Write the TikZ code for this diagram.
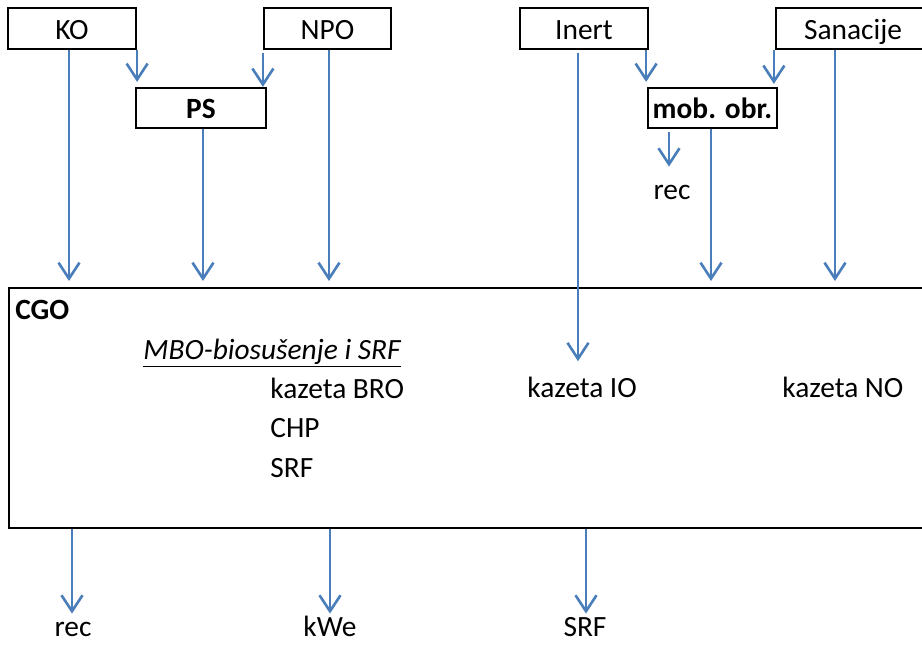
\documentclass[tikz,border=0pt]{standalone}
\usepackage{fontspec}
\setmainfont{Carlito}
\usetikzlibrary{arrows.meta,calc}
\definecolor{lineblue}{HTML}{4A7EBB}
\newcommand\dfont{\fontsize{14.7}{17}\selectfont}
\begin{document}
\begin{tikzpicture}[x=0.5pt,y=-0.5pt,
  font=\dfont,
  box/.style={draw=black,line width=1.1pt,inner sep=0pt,text height=10.5pt,text depth=0pt,minimum height=20.5pt},
  arr/.style={draw=lineblue,line width=1.3pt,-{Straight Barb[length=8pt,width=10.5pt]}},
  lbl/.style={inner sep=0pt,anchor=base west},
  outlbl/.style={inner sep=0pt,anchor=base,text height=10pt,text depth=0pt}]
\useasboundingbox (0,0) rectangle (922,644);
\clip (0,0) rectangle (922,644);

% top boxes
\node[box,minimum width=64pt] (KO) at (72,28.5) {KO};
\node[box,minimum width=63.5pt] (NPO) at (327.5,28.5) {NPO};
\node[box,minimum width=64pt] (Inert) at (584,28.5) {Inert};
\node[box,minimum width=77pt] (San) at (853,28.5) {Sanacije};
\node[box,minimum width=65pt,minimum height=20pt,font=\dfont\bfseries] (PS) at (201,108) {PS};
\node[box,minimum width=64.5pt,minimum height=20pt,font=\dfont\bfseries] (mob) at (712.5,108) {mob. obr.};

% CGO box
\node[draw=black,line width=1.1pt,inner sep=0pt,minimum width=466pt,minimum height=120pt,anchor=north west] (CGO) at (8,287) {};
\node[lbl,font=\dfont\bfseries] (cgo) at (15,319) {CGO};
\node[lbl] (mbo) at (143,359) {\textit{\underline{MBO-biosušenje i SRF}}};
\node[lbl] (kBRO) at (270,398) {kazeta BRO};
\node[lbl] (chp) at (270,437) {CHP};
\node[lbl] (srfin) at (270,477) {SRF};
\node[lbl] (kIO) at (527,397) {kazeta IO};
\node[lbl] (kNO) at (782,397) {kazeta NO};

% output labels
\node[outlbl] (rec1) at (672,199) {rec};
\node[outlbl] (rec2) at (73,636) {rec};
\node[outlbl] (kwe) at (330,636) {kWe};
\node[outlbl] (srf) at (585,636) {SRF};

% arrows into CGO
\draw[arr,shorten >=3pt] ($(KO.south)+(-3,0)$) coordinate (a1) -- (a1 |- CGO.north);
\draw[arr,shorten >=3pt] ($(PS.south)+(2,0)$) coordinate (a2) -- (a2 |- CGO.north);
\draw[arr,shorten >=3pt] ($(NPO.south)+(1.5,0)$) coordinate (a3) -- (a3 |- CGO.north);
\draw[arr,shorten >=3pt] ($(mob.south)+(-1.5,0)$) coordinate (a4) -- (a4 |- CGO.north);
\draw[arr,shorten >=3pt] ($(San.south)+(-18,0)$) coordinate (a5) -- (a5 |- CGO.north);
\draw[arr,shorten <=1.5pt,shorten >=7.5pt] ($(Inert.south)+(-6,0)$) coordinate (a6) -- (a6 |- kIO.north);

% arrows into PS and mob. obr.
\draw[arr,shorten >=2.5pt] (KO.south east) -- (KO.south east |- PS.north);
\draw[arr,shorten <=1.5pt] (NPO.south west) -- (NPO.south west |- PS.north);
\draw[arr,shorten >=2.5pt] ($(Inert.south east)+(-3,0)$) coordinate (b1) -- (b1 |- mob.north);
\draw[arr,shorten >=1.5pt] ($(San.south west)+(-1,0)$) coordinate (b2) -- (b2 |- mob.north);
\draw[arr,shorten <=1.5pt,shorten >=6pt] ($(mob.south)+(-43.5,0)$) coordinate (b3) -- (b3 |- rec1.north);

% outputs
\draw[arr,shorten >=1pt] ($(CGO.south west)+(64,0)$) coordinate (c1) -- (c1 |- rec2.north);
\draw[arr,shorten >=1pt] ($(CGO.south west)+(322,0)$) coordinate (c2) -- (c2 |- kwe.north);
\draw[arr,shorten >=1pt] ($(CGO.south west)+(578,0)$) coordinate (c3) -- (c3 |- srf.north);
\end{tikzpicture}
\end{document}
